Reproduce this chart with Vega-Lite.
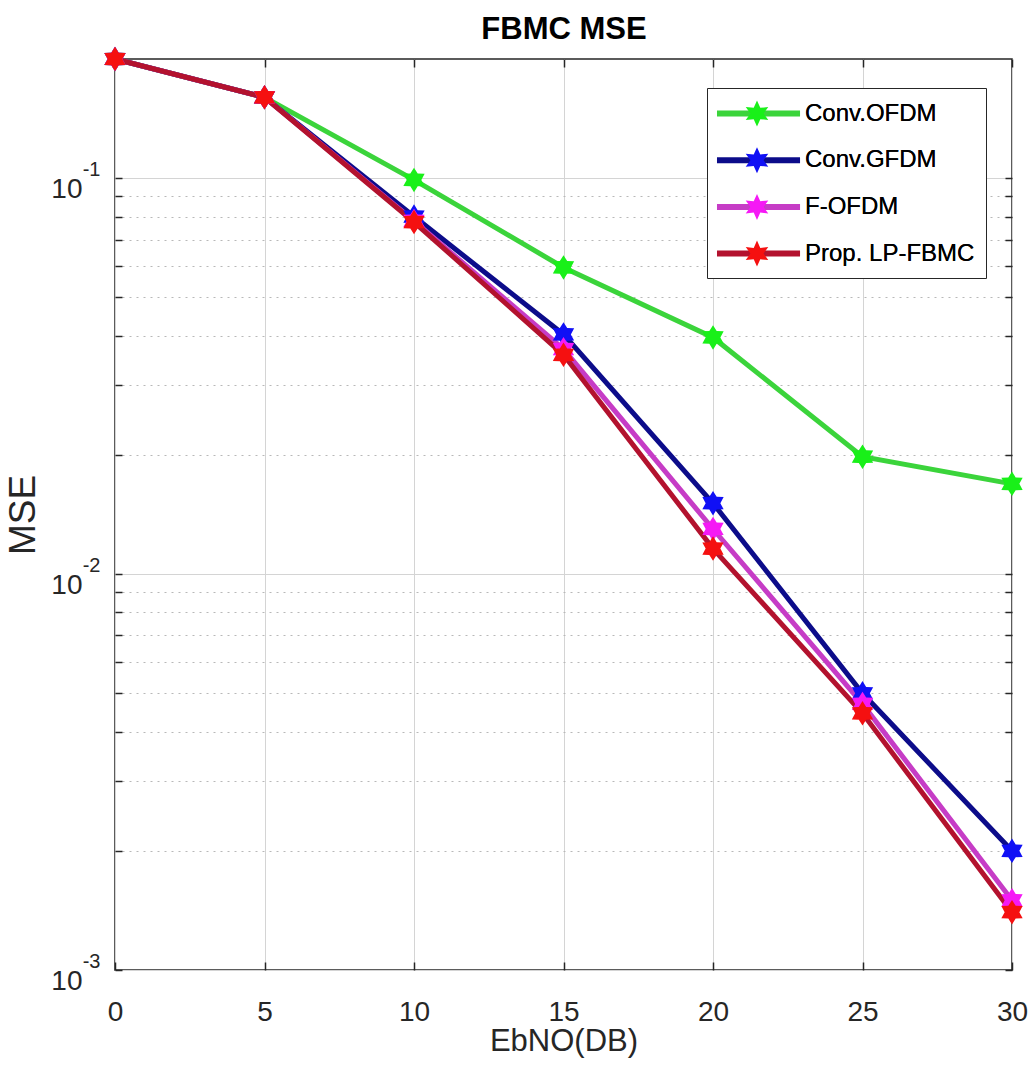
{
  "$schema": "https://vega.github.io/schema/vega-lite/v6.json",
  "width": 897,
  "height": 911,
  "autosize": "none",
  "padding": {"left": 115, "top": 59, "right": 17, "bottom": 115},
  "background": "white",
  "config": {
    "view": {"stroke": "#262626", "strokeWidth": 1.5},
    "axis": {"domain": false, "labelColor": "#262626", "tickColor": "#262626", "titleColor": "#262626", "labelFont": "Liberation Sans", "titleFont": "Liberation Sans", "titleFontWeight": "normal"}
  },
  "data": {"values": [
    {"ebno": 0, "mse": 0.2, "series": "Conv.OFDM"},
    {"ebno": 5, "mse": 0.16, "series": "Conv.OFDM"},
    {"ebno": 10, "mse": 0.099, "series": "Conv.OFDM"},
    {"ebno": 15, "mse": 0.0595, "series": "Conv.OFDM"},
    {"ebno": 20, "mse": 0.0396, "series": "Conv.OFDM"},
    {"ebno": 25, "mse": 0.0198, "series": "Conv.OFDM"},
    {"ebno": 30, "mse": 0.0169, "series": "Conv.OFDM"},
    {"ebno": 0, "mse": 0.2, "series": "Conv.GFDM"},
    {"ebno": 5, "mse": 0.16, "series": "Conv.GFDM"},
    {"ebno": 10, "mse": 0.08, "series": "Conv.GFDM"},
    {"ebno": 15, "mse": 0.0403, "series": "Conv.GFDM"},
    {"ebno": 20, "mse": 0.0151, "series": "Conv.GFDM"},
    {"ebno": 25, "mse": 0.005, "series": "Conv.GFDM"},
    {"ebno": 30, "mse": 0.002, "series": "Conv.GFDM"},
    {"ebno": 0, "mse": 0.2, "series": "F-OFDM"},
    {"ebno": 5, "mse": 0.16, "series": "F-OFDM"},
    {"ebno": 10, "mse": 0.078, "series": "F-OFDM"},
    {"ebno": 15, "mse": 0.037, "series": "F-OFDM"},
    {"ebno": 20, "mse": 0.013, "series": "F-OFDM"},
    {"ebno": 25, "mse": 0.0047, "series": "F-OFDM"},
    {"ebno": 30, "mse": 0.0015, "series": "F-OFDM"},
    {"ebno": 0, "mse": 0.2, "series": "Prop. LP-FBMC"},
    {"ebno": 5, "mse": 0.16, "series": "Prop. LP-FBMC"},
    {"ebno": 10, "mse": 0.0775, "series": "Prop. LP-FBMC"},
    {"ebno": 15, "mse": 0.0358, "series": "Prop. LP-FBMC"},
    {"ebno": 20, "mse": 0.0116, "series": "Prop. LP-FBMC"},
    {"ebno": 25, "mse": 0.00445, "series": "Prop. LP-FBMC"},
    {"ebno": 30, "mse": 0.0014, "series": "Prop. LP-FBMC"}
  ]},
  "layer": [
    {
      "mark": {"type": "line", "strokeWidth": 5, "clip": false},
      "encoding": {
        "x": {"field": "ebno", "type": "quantitative", "scale": {"domain": [0, 30], "nice": false, "zero": false},
          "axis": {"orient": "bottom", "values": [0, 5, 10, 15, 20, 25, 30], "labels": false, "ticks": true, "tickSize": -8, "tickWidth": 1.5, "grid": true, "gridColor": "#d4d4d4", "gridWidth": 1,
            "title": "EbNO(DB)", "titleFontSize": 31, "titleX": 448.5, "titleY": 80, "titleBaseline": "alphabetic", "titleAlign": "center", "titleAnchor": null}},
        "y": {"field": "mse", "type": "quantitative", "scale": {"type": "log", "domain": [0.001, 0.2], "nice": false},
          "axis": {"orient": "left", "values": [0.001, 0.002, 0.003, 0.004, 0.005, 0.006, 0.007, 0.008, 0.009, 0.01, 0.02, 0.03, 0.04, 0.05, 0.06, 0.07, 0.08, 0.09, 0.1],
            "labels": false, "ticks": true, "tickSize": -7, "tickWidth": 1.5, "grid": true,
            "gridColor": {"condition": {"test": "datum.value == 0.1 || datum.value == 0.01 || datum.value == 0.001", "value": "#d4d4d4"}, "value": "#b8b8b8"},
            "gridDash": {"condition": {"test": "datum.value == 0.1 || datum.value == 0.01 || datum.value == 0.001", "value": []}, "value": [2, 5]},
            "title": "MSE", "titleFontSize": 37, "titleAngle": -90, "titleX": -81, "titleY": 455.5, "titleBaseline": "alphabetic", "titleAlign": "center", "titleAnchor": null}},
        "stroke": {"field": "series", "type": "nominal",
          "scale": {"domain": ["Conv.OFDM", "Conv.GFDM", "F-OFDM", "Prop. LP-FBMC"], "range": ["#3bd43b", "#0c0c8a", "#c63cc6", "#b3122e"]},
          "legend": {"title": null, "orient": "none", "legendX": 592, "legendY": 29, "padding": 11.5, "rowPadding": 20.7,
            "fillColor": "white", "strokeColor": "#262626",
            "labelFont": "Liberation Sans", "labelFontSize": 24, "labelColor": "#000000", "labelLimit": 400, "labelOffset": 58.5,
            "symbolType": "M-1.41,0H6.14", "symbolSize": 484, "symbolStrokeWidth": 6, "symbolFillColor": "transparent"}},
        "order": {"field": "ebno", "type": "quantitative"}
      }
    },
    {
      "mark": {"type": "point", "filled": true, "opacity": 1, "size": 600, "clip": false, "strokeWidth": 0,
        "shape": "M0,-1L-0.3,-0.52L-0.87,-0.5L-0.6,0L-0.87,0.5L-0.3,0.52L0,1L0.3,0.52L0.87,0.5L0.6,0L0.87,-0.5L0.3,-0.52Z"},
      "encoding": {
        "x": {"field": "ebno", "type": "quantitative",
          "axis": {"orient": "top", "values": [0, 5, 10, 15, 20, 25, 30], "labels": false, "ticks": true, "tickSize": -8, "tickWidth": 1.5, "grid": false,
            "title": "FBMC MSE", "titleFontSize": 31, "titleFontWeight": "bold", "titleColor": "#000000", "titleX": 448.5, "titleY": -21, "titleBaseline": "alphabetic", "titleAlign": "center", "titleAnchor": null}},
        "y": {"field": "mse", "type": "quantitative",
          "axis": {"orient": "right", "values": [0.001, 0.002, 0.003, 0.004, 0.005, 0.006, 0.007, 0.008, 0.009, 0.01, 0.02, 0.03, 0.04, 0.05, 0.06, 0.07, 0.08, 0.09, 0.1],
            "labels": false, "ticks": true, "tickSize": -7, "tickWidth": 1.5, "grid": false, "title": null}},
        "fill": {"field": "series", "type": "nominal",
          "sort": ["Conv.OFDM", "Conv.GFDM", "F-OFDM", "Prop. LP-FBMC"],
          "scale": {"range": ["#19f019", "#1010f5", "#f519f5", "#f51010"]},
          "legend": {"title": null, "orient": "none", "legendX": 592, "legendY": 29, "padding": 11.5, "rowPadding": 18.7,
            "labelFont": "Liberation Sans", "labelFontSize": 24, "labelColor": "#000000", "labelLimit": 400, "labelOffset": 58.5,
            "symbolType": "M1.75,-0.93L1.515,-0.407L0.945,-0.465L1.28,0L0.945,0.465L1.515,0.407L1.75,0.93L1.985,0.407L2.555,0.465L2.22,0L2.555,-0.465L1.985,-0.407Z", "symbolSize": 784, "symbolStrokeWidth": 0}}
      }
    },
    {
      "mark": {"type": "point", "opacity": 0},
      "encoding": {
        "x": {"field": "ebno", "type": "quantitative",
          "axis": {"orient": "bottom", "values": [0, 5, 10, 15, 20, 25, 30], "labels": true, "ticks": false, "grid": false, "title": null, "labelFontSize": 28, "labelBaseline": "alphabetic", "labelPadding": 50, "labelFlush": false}},
        "y": {"field": "mse", "type": "quantitative",
          "axis": {"orient": "left", "values": [0.001, 0.01, 0.1], "labelExpr": "'10'", "labels": true, "ticks": false, "grid": false, "title": null,
            "labelFontSize": 28, "labelAlign": "right", "labelBaseline": "alphabetic", "labelPadding": 33, "labelOffset": 19, "labelFlush": false}}
      }
    },
    {
      "mark": {"type": "point", "opacity": 0},
      "encoding": {
        "x": {"field": "ebno", "type": "quantitative", "axis": null},
        "y": {"field": "mse", "type": "quantitative",
          "axis": {"orient": "left", "values": [0.001, 0.01, 0.1], "labelExpr": "datum.value == 0.1 ? '-1' : datum.value == 0.01 ? '-2' : '-3'", "labels": true, "ticks": false, "grid": false, "title": null,
            "labelFontSize": 20, "labelAlign": "right", "labelBaseline": "alphabetic", "labelPadding": 15, "labelOffset": -3, "labelFlush": false}}
      }
    }
  ],
  "resolve": {"axis": {"x": "independent", "y": "independent"}}
}
